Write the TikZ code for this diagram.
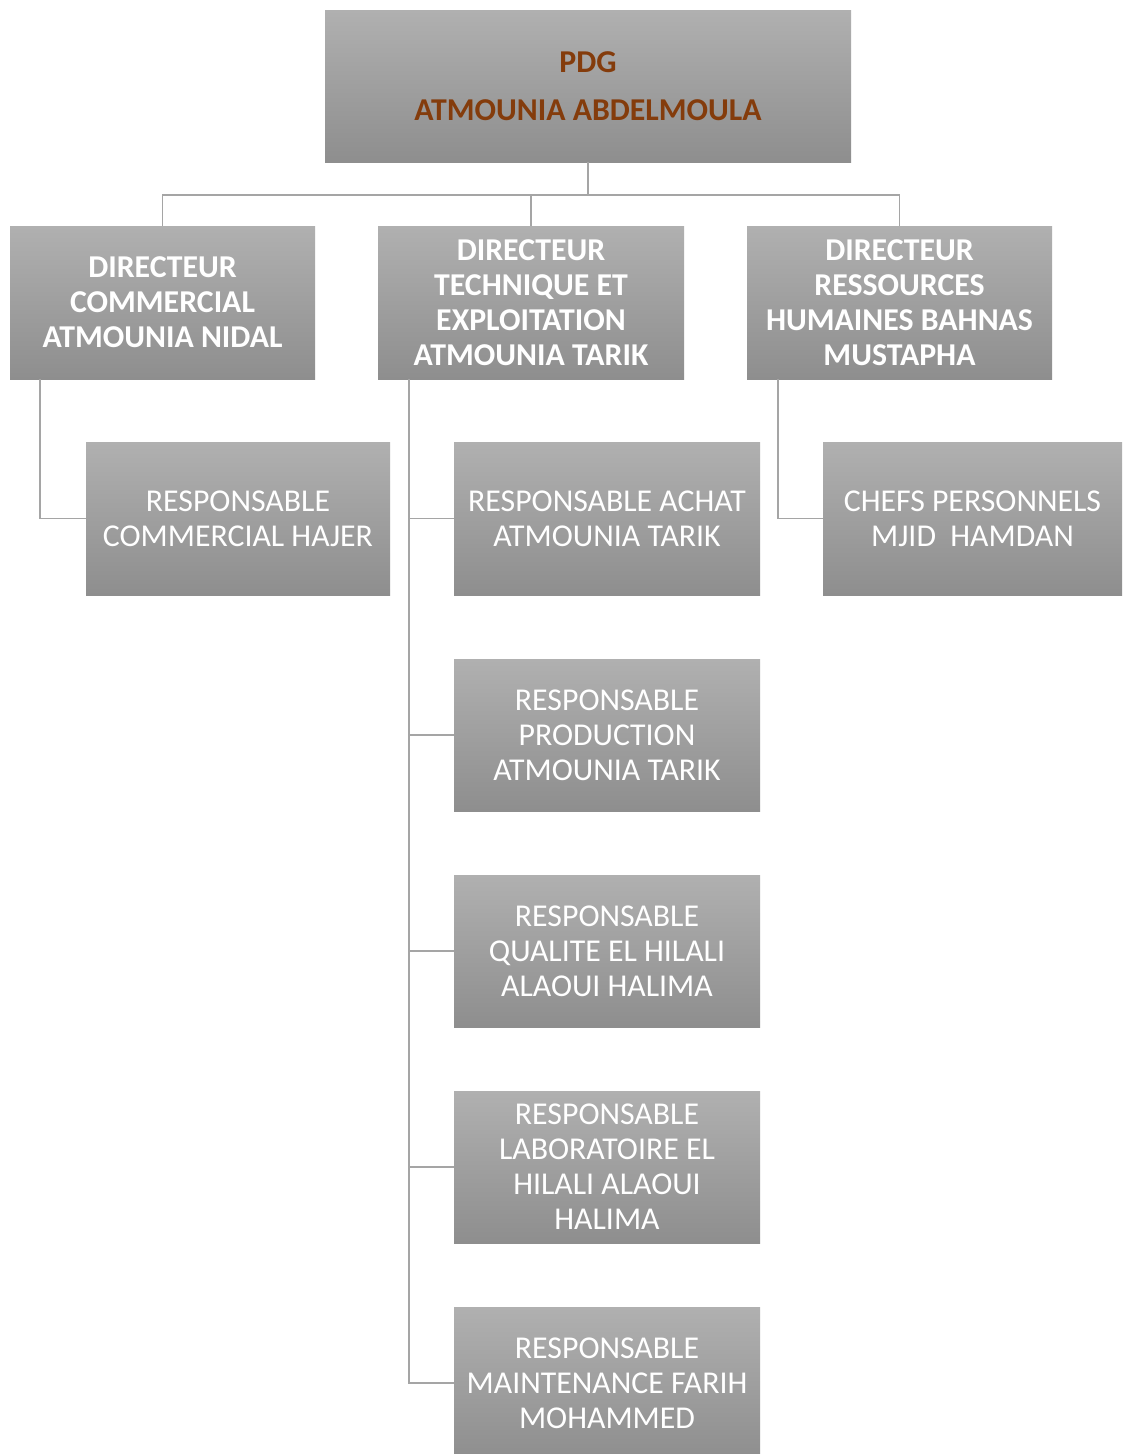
\documentclass[tikz,border=0pt]{standalone}
\usepackage{fontspec}
\setmainfont{Carlito}
\definecolor{boxtop}{RGB}{176,176,176}
\definecolor{boxbot}{RGB}{142,142,142}
\definecolor{brownt}{RGB}{132,60,12}
\definecolor{linec}{RGB}{165,165,165}
\begin{document}
\begin{tikzpicture}[x=1pt,y=-1pt,
  box/.style={rectangle, inner sep=0pt, top color=boxtop, bottom color=boxbot, draw=none, align=center, text=white,
     font=\fontsize{31.8}{35}\selectfont},
  boss/.style={box, font=\bfseries\fontsize{31.8}{48}\selectfont, text=brownt},
  dir/.style={box, font=\bfseries\fontsize{31.8}{35}\selectfont},
  conn/.style={draw=linec, line width=1.5pt}]
\useasboundingbox[fill=white] (0,0) rectangle (1122,1454);
\begin{scope}
\clip (0,0) rectangle (1122,1454);
\node[boss, minimum width=526pt, minimum height=152pt] (pdg) at (588,86) {PDG\\ATMOUNIA ABDELMOULA};
\node[dir, minimum width=305pt, minimum height=153pt] (d1) at (162.5,302.5) {DIRECTEUR\\COMMERCIAL\\ATMOUNIA NIDAL};
\node[dir, minimum width=306pt, minimum height=153pt] (d2) at (531,302.5) {DIRECTEUR\\TECHNIQUE ET\\EXPLOITATION\\ATMOUNIA TARIK};
\node[dir, minimum width=305pt, minimum height=153pt] (d3) at (899.5,302.5) {DIRECTEUR\\RESSOURCES\\HUMAINES BAHNAS\\MUSTAPHA};
\node[box, minimum width=304pt, minimum height=153pt] (r1) at (238,518.5) {RESPONSABLE\\COMMERCIAL HAJER};
\node[box, minimum width=306pt, minimum height=153pt] (r2) at (607,518.5) {RESPONSABLE ACHAT\\ATMOUNIA TARIK};
\node[box, minimum width=299pt, minimum height=153pt] (r3) at (972.5,518.5) {CHEFS PERSONNELS\\MJID\ \ HAMDAN};
\node[box, minimum width=306pt, minimum height=152pt] (r4) at (607,735) {RESPONSABLE\\PRODUCTION\\ATMOUNIA TARIK};
\node[box, minimum width=306pt, minimum height=152pt] (r5) at (607,951) {RESPONSABLE\\QUALITE EL HILALI\\ALAOUI HALIMA};
\node[box, minimum width=306pt, minimum height=152pt] (r6) at (607,1167) {RESPONSABLE\\LABORATOIRE EL\\HILALI ALAOUI\\HALIMA};
\node[box, minimum width=306pt, minimum height=152pt] (r7) at (607,1383) {RESPONSABLE\\MAINTENANCE FARIH\\MOHAMMED};
\end{scope}
\coordinate (bus) at (588,195);
\draw[conn] (pdg.south) -- (bus);
\draw[conn] (d1.north) |- (bus) -| (d3.north);
\draw[conn] (d2.north) -- (d2.north |- bus);
\draw[conn] ([xshift=-122.5pt]d1.south) |- (r1.west);
\draw[conn] ([xshift=-122pt]d2.south) |- (r7.west);
\foreach \n in {r2,r4,r5,r6}{
  \draw[conn] ([xshift=-122pt]d2.south |- \n.west) -- (\n.west);
}
\draw[conn] ([xshift=-121.5pt]d3.south) |- (r3.west);
\end{tikzpicture}
\end{document}
